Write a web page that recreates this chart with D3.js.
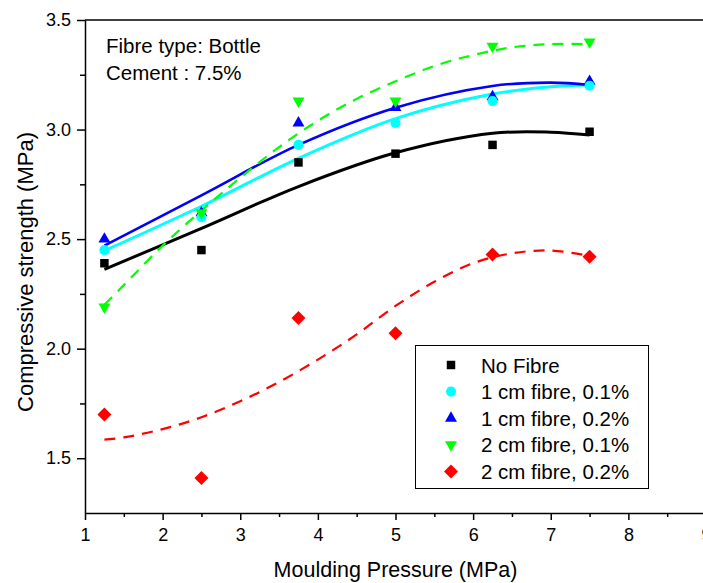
<!DOCTYPE html>
<html><head><meta charset="utf-8">
<script src="https://cdn.jsdelivr.net/npm/d3@7"></script>
<style>body{margin:0;background:#fff} svg{display:block}</style>
</head><body><svg id="c" width="703" height="583"></svg>
<script>
// ---- data ----
const pressure = [1.25, 2.5, 3.75, 5, 6.25, 7.5];
const noFibre  = [2.39, 2.45, 2.85, 2.89, 2.93, 2.99];
const cm1_01   = [2.45, 2.60, 2.93, 3.03, 3.13, 3.20];
const cm1_02   = [2.50, 2.62, 3.03, 3.10, 3.15, 3.22];
const cm2_01   = [2.19, 2.62, 3.13, 3.13, 3.38, 3.40];
const cm2_02   = [1.70, 1.41, 2.14, 2.07, 2.43, 2.42];

// fitted trend curves
const fitX1 = [1.25, 2.5, 3.75, 5, 6.25, 7, 7.5];
const fitNoFibre = [2.362, 2.549, 2.74, 2.894, 2.983, 2.988, 2.975];
const fitCm1_01  = [2.447, 2.65, 2.869, 3.05, 3.162, 3.195, 3.203];
const fitCm1_02  = [2.47, 2.70, 2.93, 3.10, 3.199, 3.214, 3.203];
const fitX2 = [1.25, 1.5, 2, 2.5, 3, 3.5, 4, 4.5, 5, 5.5, 6, 6.5, 7, 7.5];
const fitCm2_01  = [2.20, 2.29, 2.47, 2.63, 2.78, 2.92, 3.04, 3.14, 3.22, 3.29, 3.34, 3.375, 3.39, 3.39];
const fitCm2_02  = [1.585, 1.595, 1.633, 1.687, 1.76, 1.848, 1.95, 2.065, 2.195, 2.305, 2.39, 2.435, 2.448, 2.423];

const seriesNames = ["No Fibre", "1 cm fibre, 0.1%", "1 cm fibre, 0.2%", "2 cm fibre, 0.1%", "2 cm fibre, 0.2%"];
const xMajorTicks = [1, 2, 3, 4, 5, 6, 7, 8, 9];
const xMinorTicks = [1.5, 2.5, 3.5, 4.5, 5.5, 6.5, 7.5, 8.5];
const yMajorTicks = [1.5, 2.0, 2.5, 3.0, 3.5];
const yMinorTicks = [1.75, 2.25, 2.75, 3.25];
const notes = ["Fibre type: Bottle", "Cement : 7.5%"];
const xTitle = "Moulding Pressure (MPa)";
const yTitle = "Compressive strength (MPa)";

// ---- drawing ----
const FONT = "'Liberation Sans', Arial, sans-serif";
const svg = d3.select("#c");
const x = d3.scaleLinear().domain([1, 9]).range([85, 706]);
const y = d3.scaleLinear().domain([1.25, 3.5]).range([513, 20]);

const series = [
  {name: seriesNames[0], vals: noFibre, fit: fitNoFibre, fx: fitX1, color: "#000000", dash: null, w: 3, sym: d3.symbolSquare, size: 72, rot: 0},
  {name: seriesNames[1], vals: cm1_01, fit: fitCm1_01, fx: fitX1, color: "#00ffff", dash: null, w: 3, sym: d3.symbolCircle, size: 80, rot: 0},
  {name: seriesNames[2], vals: cm1_02, fit: fitCm1_02, fx: fitX1, color: "#0000ff", dash: null, w: 2.6, sym: d3.symbolTriangle, size: 62, rot: 0},
  {name: seriesNames[3], vals: cm2_01, fit: fitCm2_01, fx: fitX2, color: "#00ff00", dash: "11,8", w: 2.2, sym: d3.symbolTriangle, size: 62, rot: 180},
  {name: seriesNames[4], vals: cm2_02, fit: fitCm2_02, fx: fitX2, color: "#ff0000", dash: "11,8", w: 2.2, sym: d3.symbolSquare, size: 98, rot: 45}
];

// axes
const gx = svg.append("g").attr("transform", "translate(0,513)")
  .call(d3.axisBottom(x).tickValues(xMajorTicks).tickFormat(d3.format("d")).tickSize(7).tickSizeOuter(0).tickPadding(8));
gx.attr("font-family", FONT).attr("font-size", 18);
gx.selectAll("text").attr("fill", "#000");
gx.selectAll("line, path").attr("stroke", "#000").attr("stroke-width", 1.5);
const gxm = svg.append("g").attr("transform", "translate(0,513)")
  .call(d3.axisBottom(x).tickValues(xMinorTicks).tickFormat("").tickSize(4).tickSizeOuter(0));
gxm.select(".domain").remove();
gxm.selectAll("line").attr("stroke", "#000").attr("stroke-width", 1.5);

const gy = svg.append("g").attr("transform", "translate(85,0)")
  .call(d3.axisLeft(y).tickValues(yMajorTicks).tickFormat(d3.format(".1f")).tickSize(8).tickSizeOuter(0).tickPadding(6));
gy.attr("font-family", FONT).attr("font-size", 18);
gy.selectAll("text").attr("fill", "#000");
gy.selectAll("line, path").attr("stroke", "#000").attr("stroke-width", 1.5);
const gym = svg.append("g").attr("transform", "translate(85,0)")
  .call(d3.axisLeft(y).tickValues(yMinorTicks).tickFormat("").tickSize(5).tickSizeOuter(0));
gym.select(".domain").remove();
gym.selectAll("line").attr("stroke", "#000").attr("stroke-width", 1.5);

// top frame line
svg.append("line").attr("x1", x(1)).attr("x2", x(9)).attr("y1", y(3.5)).attr("y2", y(3.5))
  .attr("stroke", "#000").attr("stroke-width", 1.5);

// axis titles
svg.append("text").attr("x", (x(1) + x(9)) / 2).attr("y", 577).attr("text-anchor", "middle")
  .attr("font-family", FONT).attr("font-size", 21.5).text(xTitle);
svg.append("text").attr("transform", "translate(33,272) rotate(-90)").attr("text-anchor", "middle")
  .attr("font-family", FONT).attr("font-size", 22).text(yTitle);

// fit lines
const line = d3.line().x(d => x(d[0])).y(d => y(d[1])).curve(d3.curveCatmullRom.alpha(0.5));
series.forEach(s => {
  svg.append("path").datum(s.fx.map((v, i) => [v, s.fit[i]]))
    .attr("d", line).attr("fill", "none").attr("stroke", s.color).attr("stroke-width", s.w)
    .attr("stroke-dasharray", s.dash).attr("stroke-linejoin", "round");
});

// markers (draw order: black, blue, cyan, green, red)
[0, 2, 1, 3, 4].forEach(k => {
  const s = series[k];
  const sym = d3.symbol().type(s.sym).size(s.size);
  svg.append("g").selectAll("path").data(pressure.map((p, i) => [p, s.vals[i]])).join("path")
    .attr("d", sym)
    .attr("transform", d => `translate(${x(d[0])},${y(d[1])}) rotate(${s.rot})`)
    .attr("fill", s.color);
});

// notes
notes.forEach((t, i) => {
  svg.append("text").attr("x", 106).attr("y", 53.3 + i * 26.7)
    .attr("font-family", FONT).attr("font-size", 20.5).text(t);
});

// legend
const lg = svg.append("g");
lg.append("rect").attr("x", 415.5).attr("y", 345.5).attr("width", 233).attr("height", 143)
  .attr("fill", "#fff").attr("stroke", "#000").attr("stroke-width", 1);
series.forEach((s, i) => {
  const cy = 365 + i * 26.6;
  lg.append("path").attr("d", d3.symbol().type(s.sym).size(s.size))
    .attr("transform", `translate(451,${cy}) rotate(${s.rot})`).attr("fill", s.color);
  lg.append("text").attr("x", 481).attr("y", cy + 7.5)
    .attr("font-family", FONT).attr("font-size", 20.5).text(s.name);
});
</script>
</body></html>
